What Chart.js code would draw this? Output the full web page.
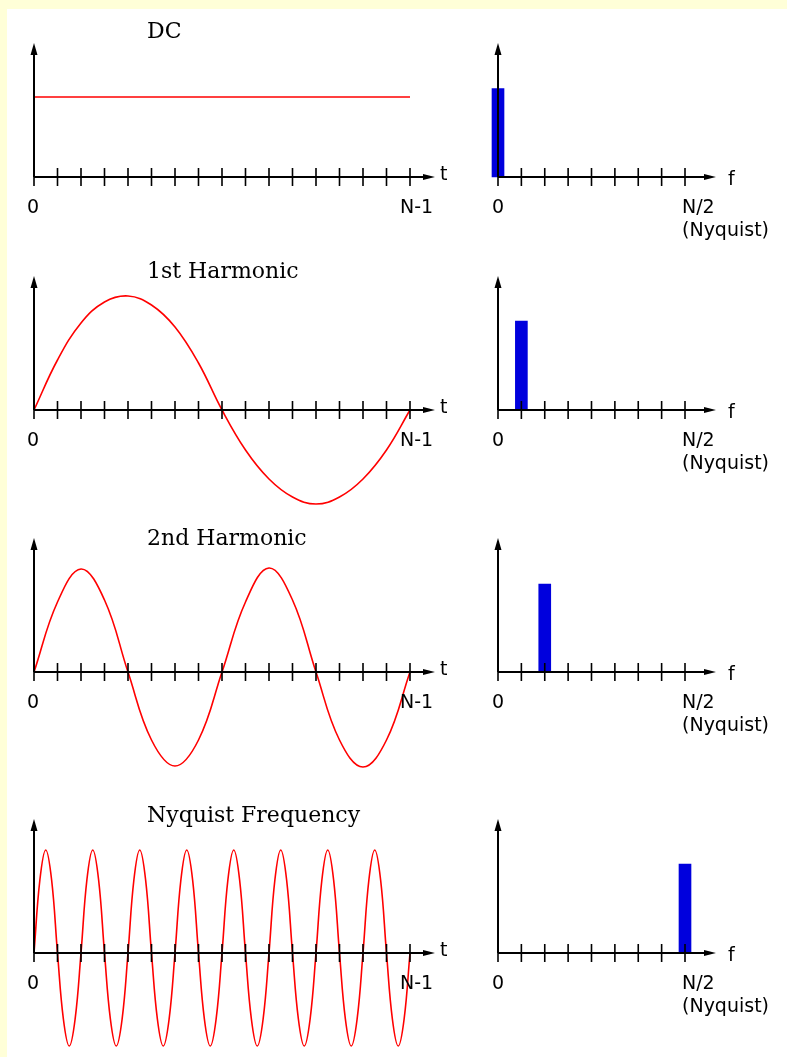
<!DOCTYPE html>
<html>
<head>
<meta charset="utf-8">
<script src="https://cdn.jsdelivr.net/npm/chart.js@4/dist/chart.umd.min.js"></script>
<style>
  body { margin: 0; width: 787px; height: 1057px; overflow: hidden; position: relative; background: #ffffd8; }
  #sheet { position: absolute; left: 7px; top: 9px; right: 0; bottom: 0; background: #fff; }
  canvas { position: absolute; }
</style>
</head>
<body>
<div id="sheet"></div>
<script>
// time axis: sample index 0 .. N-1 (16 steps), frequency axis: bins 0 .. N/2
var sampleT = [0, 1, 2, 3, 4, 5, 6, 7, 8, 9, 10, 11, 12, 13, 14, 15, 16];
var dcT = [0, 16];
var freqBins = [0, 1, 2, 3, 4, 5, 6, 7, 8];
var nyquistStep = 0.25;

var dcWave = [0.80, 0.80];
var harmonic1Wave = [0, 0.50, 0.87, 1.08, 1.14, 1.05, 0.83, 0.47, 0, -0.40, -0.69, -0.87, -0.94, -0.87, -0.69, -0.40, 0];
var harmonic2Wave = [0, 0.70, 1.03, 0.72, 0, -0.68, -0.94, -0.68, 0, 0.70, 1.04, 0.72, 0, -0.68, -0.95, -0.68, 0];
var nyquistWave = [
    0, 0.73, 1.03, 0.73, 0, -0.66, -0.93, -0.66,
    0, 0.73, 1.03, 0.73, 0, -0.66, -0.93, -0.66,
    0, 0.73, 1.03, 0.73, 0, -0.66, -0.93, -0.66,
    0, 0.73, 1.03, 0.73, 0, -0.66, -0.93, -0.66,
    0, 0.73, 1.03, 0.73, 0, -0.66, -0.93, -0.66,
    0, 0.73, 1.03, 0.73, 0, -0.66, -0.93, -0.66,
    0, 0.73, 1.03, 0.73, 0, -0.66, -0.93, -0.66,
    0, 0.73, 1.03, 0.73, 0, -0.66, -0.93, -0.66,
    0
];

var dcSpectrum = [0.885, 0, 0, 0, 0, 0, 0, 0, 0];
var harmonic1Spectrum = [0, 0.89, 0, 0, 0, 0, 0, 0, 0];
var harmonic2Spectrum = [0, 0, 0.88, 0, 0, 0, 0, 0, 0];
var nyquistSpectrum = [0, 0, 0, 0, 0, 0, 0, 0, 0.89];

var titles = ['DC', '1st Harmonic', '2nd Harmonic', 'Nyquist Frequency'];

var rows = [
    { wave: dcWave, t: dcT, spectrum: dcSpectrum, axisY: 177, titleDy: -139 },
    { wave: harmonic1Wave, t: sampleT, spectrum: harmonic1Spectrum, axisY: 410, titleDy: -132 },
    { wave: harmonic2Wave, t: sampleT, spectrum: harmonic2Spectrum, axisY: 672, titleDy: -127 },
    { wave: nyquistWave, t: null, spectrum: nyquistSpectrum, axisY: 953, titleDy: -131 }
];

var labelFont = '19px "DejaVu Sans"';
var titleFont = '22px "DejaVu Serif"';

// axes with arrow heads and ticks crossing the baseline
var arrowAxes = {
    id: 'arrowAxes',
    afterDatasetsDraw: function (chart, args, opts) {
        var ctx = chart.ctx;
        var xs = chart.scales.x, ys = chart.scales.y;
        var x0 = xs.getPixelForValue(0);
        var y0 = ys.getPixelForValue(0);
        var xEnd = xs.getPixelForValue(xs.max) + opts.arrowPad;
        var yTip = ys.getPixelForValue(1.34);

        ctx.save();
        ctx.strokeStyle = '#000';
        ctx.fillStyle = '#000';

        ctx.lineWidth = 2;
        ctx.beginPath();
        ctx.moveTo(x0, y0);
        ctx.lineTo(x0, yTip + 8);
        ctx.moveTo(x0, y0);
        ctx.lineTo(xEnd - 8, y0);
        ctx.stroke();

        ctx.beginPath();
        ctx.moveTo(x0, yTip);
        ctx.lineTo(x0 - 3.5, yTip + 12);
        ctx.lineTo(x0 + 3.5, yTip + 12);
        ctx.closePath();
        ctx.fill();

        ctx.beginPath();
        ctx.moveTo(xEnd, y0);
        ctx.lineTo(xEnd - 12, y0 - 3);
        ctx.lineTo(xEnd - 12, y0 + 3);
        ctx.closePath();
        ctx.fill();

        ctx.lineWidth = 1.6;
        ctx.beginPath();
        for (var k = 0; k <= xs.max; k++) {
            var px = xs.getPixelForValue(k);
            ctx.moveTo(px, y0 - 9);
            ctx.lineTo(px, y0 + 9);
        }
        ctx.stroke();

        ctx.font = labelFont;
        ctx.textBaseline = 'alphabetic';
        opts.labels.forEach(function (l) {
            ctx.textAlign = l.align || 'left';
            var lx = l.at === 'arrow' ? xEnd : xs.getPixelForValue(l.at);
            ctx.fillText(l.text, lx + l.dx, y0 + l.dy);
        });

        if (opts.title) {
            ctx.font = titleFont;
            ctx.textAlign = 'left';
            ctx.fillText(opts.title, opts.titleX, y0 + opts.titleDy);
        }
        ctx.restore();
    }
};

function makeCanvas(left, top, w, h) {
    var c = document.createElement('canvas');
    c.width = w;
    c.height = h;
    c.style.left = left + 'px';
    c.style.top = top + 'px';
    c.style.width = w + 'px';
    c.style.height = h + 'px';
    document.body.appendChild(c);
    return c;
}

function showWave(row, title) {
    var points = row.wave.map(function (v, i) {
        var x = row.t ? row.t[i] : i * nyquistStep;
        return { x: x, y: v };
    });
    var canvas = makeCanvas(0, row.axisY - 160, 470, 270);
    new Chart(canvas, {
        type: 'line',
        data: {
            datasets: [{
                data: points,
                borderColor: '#f00',
                borderWidth: 1.6,
                pointRadius: 0,
                tension: 0.4,
                clip: false
            }]
        },
        options: {
            responsive: false,
            animation: false,
            devicePixelRatio: 1,
            layout: { padding: { left: 34, right: 60, top: 20, bottom: 10 } },
            scales: {
                x: { type: 'linear', min: 0, max: 16, display: false },
                y: { min: -1, max: 1.4, display: false }
            },
            plugins: {
                legend: { display: false },
                tooltip: { enabled: false },
                arrowAxes: {
                    arrowPad: 25,
                    title: title,
                    titleX: 147,
                    titleDy: row.titleDy,
                    labels: [
                        { text: '0', at: 0, dx: -1, dy: 36, align: 'center' },
                        { text: 'N-1', at: 16, dx: -10, dy: 36 },
                        { text: 't', at: 'arrow', dx: 5, dy: 3 }
                    ]
                }
            }
        },
        plugins: [arrowAxes]
    });
}

function showSpectrum(row) {
    var bars = freqBins.map(function (b, i) {
        return { x: b, y: row.spectrum[i] };
    });
    var canvas = makeCanvas(470, row.axisY - 160, 317, 270);
    new Chart(canvas, {
        type: 'bar',
        data: {
            datasets: [{
                data: bars,
                backgroundColor: function (c) {
                    return c.raw && c.raw.y ? '#0000dd' : 'rgba(0,0,0,0)';
                },
                borderWidth: 0,
                barThickness: 12,
                clip: false
            }]
        },
        options: {
            responsive: false,
            animation: false,
            devicePixelRatio: 1,
            layout: { padding: { left: 28, right: 102, top: 20, bottom: 10 } },
            scales: {
                x: { type: 'linear', min: 0, max: 8, offset: false, display: false },
                y: { min: -1, max: 1.4, display: false }
            },
            plugins: {
                legend: { display: false },
                tooltip: { enabled: false },
                arrowAxes: {
                    arrowPad: 31,
                    labels: [
                        { text: '0', at: 0, dx: 0, dy: 36, align: 'center' },
                        { text: 'N/2', at: 8, dx: -3, dy: 36 },
                        { text: '(Nyquist)', at: 8, dx: -3, dy: 59 },
                        { text: 'f', at: 'arrow', dx: 12, dy: 8 }
                    ]
                }
            }
        },
        plugins: [arrowAxes]
    });
}

rows.forEach(function (row, i) {
    showWave(row, titles[i]);
    showSpectrum(row);
});
</script>
</body>
</html>
